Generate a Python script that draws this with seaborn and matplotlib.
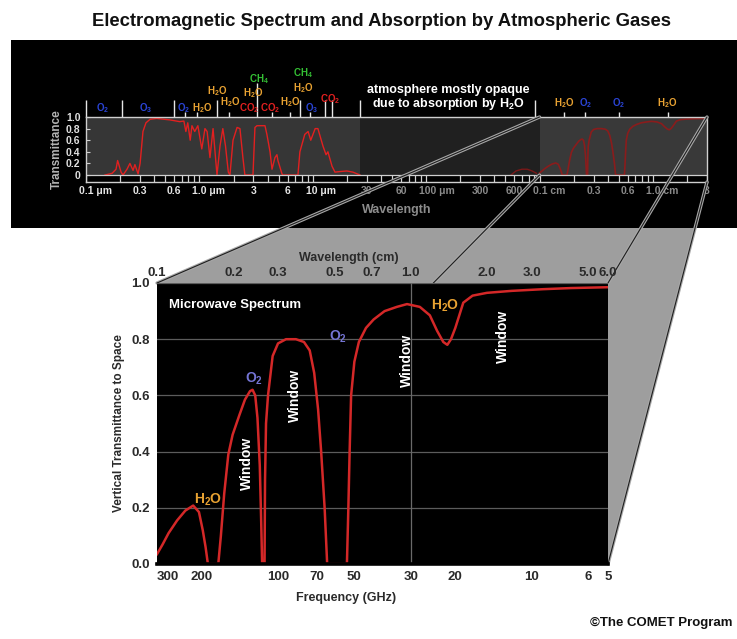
import matplotlib
matplotlib.use("Agg")
import matplotlib.pyplot as plt
from matplotlib.patches import Rectangle, Polygon, ConnectionPatch
from matplotlib.ticker import NullLocator
import seaborn as sns

# microwave window: frequency (GHz) vs vertical transmittance to space
mw_freq = [300, 285, 270, 250, 232, 216, 205, 198, 193, 189,
           180, 172, 168, 163, 157, 151, 142, 135, 129, 126,
           123, 120.5, 118, 116.5, 115.5, 113, 112.5, 111.5, 109.5, 105,
           100, 93, 85, 79, 75, 72, 69.5, 67.6, 65.5, 64,
           58, 53.5, 52.8, 52.2, 51.5, 50, 48, 45, 42, 38,
           34, 31, 27.6, 25.2, 23.6, 22.3, 21.5, 20.8, 20.0, 18.6,
           17.1, 15, 12, 9, 7, 5]
mw_trans = [0.035, 0.07, 0.11, 0.155, 0.19, 0.208, 0.185, 0.12, 0.06, 0.0,
            0.0, 0.0, 0.10, 0.25, 0.39, 0.46, 0.53, 0.585, 0.615, 0.62,
            0.60, 0.52, 0.35, 0.15, 0.0, 0.0, 0.3, 0.5, 0.6, 0.74,
            0.785, 0.80, 0.80, 0.79, 0.76, 0.68, 0.55, 0.4, 0.2, 0.0,
            0.0, 0.0, 0.2, 0.4, 0.6, 0.72, 0.79, 0.84, 0.87, 0.90,
            0.915, 0.925, 0.915, 0.885, 0.83, 0.79, 0.78, 0.80, 0.84, 0.93,
            0.955, 0.965, 0.972, 0.978, 0.982, 0.985]

# ultraviolet / visible / infrared transmittance, wavelength in micrometres
ir_wl = [0.147, 0.17, 0.184, 0.19, 0.204, 0.212, 0.23, 0.244, 0.26, 0.27,
         0.288, 0.30, 0.318, 0.338, 0.367, 0.42, 0.55, 0.67, 0.73, 0.76,
         0.79, 0.83, 0.86, 0.91, 0.97, 1.05, 1.12, 1.17, 1.24, 1.32,
         1.43, 1.52, 1.61, 1.7, 1.8, 1.86, 1.98, 2.15, 2.28, 2.42,
         2.52, 2.97, 3.09, 3.22, 3.79, 3.94, 4.2, 4.37, 4.64, 4.83,
         4.93, 5.35, 5.46, 7.4, 7.7, 8.5, 9.1, 9.6, 10.5, 11.1,
         12.3, 13.1, 13.6, 14.8, 15.7, 17.4, 20, 22.6, 26.1]
ir_trans = [0.0, 0.03, 0.1, 0.25, 0.05, 0.0, 0.1, 0.2, 0.08, 0.18,
            0.02, 0.2, 0.75, 0.9, 0.96, 0.975, 0.95, 0.92, 0.93, 0.75,
            0.9, 0.6, 0.85, 0.75, 0.85, 0.45, 0.8, 0.75, 0.3, 0.8,
            0.0, 0.5, 0.8, 0.5, 0.05, 0.0, 0.6, 0.82, 0.8, 0.3,
            0.0, 0.0, 0.82, 0.85, 0.85, 0.7, 0.4, 0.1, 0.3, 0.35,
            0.25, 0.02, 0.0, 0.0, 0.4, 0.7, 0.75, 0.6, 0.8, 0.8,
            0.5, 0.35, 0.4, 0.15, 0.05, 0.06, 0.07, 0.05, 0.0]

# weak far-infrared window
fir_wl = [560, 620, 700, 780, 860, 940]
fir_trans = [0.0, 0.07, 0.1, 0.1, 0.07, 0.03]

top_ticks = [0.1, 0.3, 0.6, 1, 3, 6, 10, 30, 60, 100, 300, 600,
             1000, 3000, 6000, 10000, 30000]
top_labels = ["0.1 μm", "0.3", "0.6", "1.0 μm", "3", "6", "10 μm", "30", "60",
              "100 μm", "300", "600", "0.1 cm", "0.3", "0.6", "1.0 cm", "3"]

freq_ticks = [300, 200, 100, 70, 50, 30, 20, 10, 6, 5]
wl_cm_ticks = [0.1, 0.2, 0.3, 0.5, 0.7, 1.0, 2.0, 3.0, 5.0, 6.0]
trans_ticks = [0.0, 0.2, 0.4, 0.6, 0.8, 1.0]

# band separators above the top panel (micrometres)
sep_tall = [0.1, 0.208, 0.597, 1.43, 7.7, 12.8, 14.7, 26.1, 920]
sep_ch4 = [3.22]
sep_short = [0.75, 0.95, 1.83, 4.36, 6.3, 9.4]
mw_lines_ghz = [183, 118.75, 60, 22.235]
mw_line_gas = ["H$_2$O", "O$_2$", "O$_2$", "H$_2$O"]

ir_gas = ["O$_2$", "O$_3$", "O$_2$", "H$_2$O", "H$_2$O", "H$_2$O", "H$_2$O",
          "CH$_4$", "CO$_2$", "CO$_2$", "H$_2$O", "H$_2$O", "CH$_4$", "O$_3$", "CO$_2$"]

BLUE, ORANGE, GREEN, RED = "#2a44d6", "#e8a232", "#34c034", "#e22020"
LAV = "#7474d4"

plt.rcParams["font.family"] = ["Liberation Sans", "DejaVu Sans"]
plt.rcParams["font.weight"] = "bold"
plt.rcParams["mathtext.fontset"] = "custom"
plt.rcParams["mathtext.rm"] = "Liberation Sans:bold"
plt.rcParams["mathtext.bf"] = "Liberation Sans:bold"
plt.rcParams["mathtext.default"] = "bf"

W, H = 737, 639
fig = plt.figure(figsize=(W / 100, H / 100), dpi=100)
fig.patch.set_facecolor("white")


def frac(x0, y0, x1, y1):
    return [x0 / W, 1 - y1 / H, (x1 - x0) / W, (y1 - y0) / H]


# ---------------- top panel: whole spectrum ----------------
ax_top = fig.add_axes(frac(86, 117, 707, 182))
ax_top.set_zorder(-1)
ax_top.set_xscale("log")
ax_top.set_xlim(0.1, 30000)
ax_top.set_ylim(-0.12, 1.0)
ax_top.patch.set_alpha(0)
ax_top.xaxis.set_minor_locator(NullLocator())

ax_top.fill_between([0.1, 26.1], 0, 1, color="#363636", lw=0)
ax_top.fill_between([26.1, 1000], 0, 1, color="#202020", lw=0)
ax_top.fill_between([1000, 30000], 0, 1, color="#393939", lw=0)

sns.lineplot(x=ir_wl, y=ir_trans, ax=ax_top, color=RED, lw=1.0, estimator=None)
sns.lineplot(x=fir_wl, y=fir_trans, ax=ax_top, color="#7a1818", lw=1.0, estimator=None)
sns.lineplot(x=[3e5 / f for f in mw_freq], y=mw_trans, ax=ax_top,
             color="#8a1c1c", lw=1.2, estimator=None)

# ruler strip below the panel
ruler = [m * 10.0 ** e for e in range(-1, 5) for m in range(1, 10) if m * 10.0 ** e <= 30000]
ax_top.vlines(ruler, -0.12, 0, color="#cfcfcf", lw=0.9)
ax_top.axhline(0, color="#cfcfcf", lw=0.9)
for s in ax_top.spines.values():
    s.set_color("#cfcfcf")
    s.set_linewidth(1.0)

ax_top.set_xticks([])
ax_top.set_yticks(trans_ticks)
ax_top.set_yticklabels(["0", "0.2", "0.4", "0.6", "0.8", "1.0"], fontsize=7.5,
                       color="#e0e0e0", fontweight="bold")
ax_top.tick_params(axis="y", direction="in", length=3, color="#cfcfcf", pad=4)
ax_top.set_ylabel("Transmittance", color="#b4b4b4", fontsize=8.5, fontweight="bold", labelpad=2)
ax_top.set_xlabel("Wavelength", color="#8c8c8c", fontsize=9, fontweight="bold", labelpad=16)

for i, (t, lab) in enumerate(zip(top_ticks, top_labels)):
    unit = " " in lab
    ax_top.annotate(lab, xy=(t, -0.12), xycoords="data", xytext=(-5 if unit else 0, -3),
                    textcoords="offset points", ha="left" if unit else "center", va="top",
                    fontsize=7.5, fontweight="bold", color="#e6e6e6" if i < 7 else "#8a8a8a",
                    annotation_clip=False)

ax_top.vlines(sep_tall, 1.0, 1.30, color="#e6e6e6", lw=1.0, clip_on=False)
ax_top.vlines(sep_ch4, 1.0, 1.59, color="#e6e6e6", lw=1.0, clip_on=False)
ax_top.vlines(sep_short, 1.0, 1.08, color="#e6e6e6", lw=1.0, clip_on=False)
mw_lines_um = [3e5 / f for f in mw_lines_ghz]
ax_top.vlines(mw_lines_um, 1.0, 1.08, color="#e6e6e6", lw=1.0, clip_on=False)

ir_pos = [(0.141, 1.16), (0.338, 1.16), (0.72, 1.16), (1.05, 1.16), (1.43, 1.45),
          (1.86, 1.26), (2.96, 1.42), (3.35, 1.66), (2.75, 1.16), (4.25, 1.16),
          (6.3, 1.26), (8.2, 1.49), (8.2, 1.76), (9.8, 1.16), (14.1, 1.31)]
for gas, (xw, yt) in zip(ir_gas, ir_pos):
    col = {"O": BLUE, "H": ORANGE, "C": GREEN if "CH" in gas else RED}[gas[0]]
    ax_top.text(xw, yt, gas, color=col, fontsize=7, ha="center", va="center", clip_on=False)
for gas, xw in zip(mw_line_gas, mw_lines_um):
    ax_top.text(xw, 1.24, gas, color=ORANGE if gas.startswith("H") else BLUE,
                fontsize=7, ha="center", va="center", clip_on=False)
ax_top.text(156, 1.33, "atmosphere mostly opaque\ndue to absorption by H$_2$O",
            color="white", fontsize=9, ha="center", va="center", linespacing=1.0,
            clip_on=False)

# ---------------- main panel: microwave spectrum ----------------
ax = fig.add_axes(frac(157, 283, 608, 564))
ax.set_zorder(1)
ax.set_facecolor("black")
ax.set_xscale("log")
ax.set_xlim(300, 5)
ax.set_ylim(0, 1.0)
for s in ax.spines.values():
    s.set_visible(False)
# black bottom edge hides the curve where it lies along zero
ax.spines["bottom"].set_visible(True)
ax.spines["bottom"].set_color("black")
ax.spines["bottom"].set_linewidth(2.6)

ax.set_yticks(trans_ticks)
ax.set_yticklabels([f"{v:.1f}" for v in trans_ticks], fontsize=9.5, fontweight="bold", color="#2a2a2a")
ax.yaxis.grid(True, color="#5c5c5c", lw=0.9)
ax.axvline(30, color="#6a6a6a", lw=0.9)
ax.set_axisbelow(True)
ax.set_xticks(freq_ticks)
ax.set_xticklabels([str(v) for v in freq_ticks], fontsize=9.5, fontweight="bold", color="#2a2a2a")
ax.get_xticklabels()[0].set_ha("left")
ax.xaxis.set_minor_locator(NullLocator())
ax.tick_params(length=0, pad=5)

sns.lineplot(x=mw_freq, y=mw_trans, ax=ax, color="#d42828", lw=1.8, estimator=None)

ax.set_xlabel("Frequency (GHz)", fontsize=9, fontweight="bold", color="#2a2a2a")
ax.xaxis.set_label_coords(0.42, -0.1)
ax.set_ylabel("Vertical Transmittance to Space", fontsize=8.5, fontweight="bold", color="#2a2a2a")
ax.yaxis.set_label_coords(-0.07, 0.5)

ax.text(0.027, 0.92, "Microwave Spectrum", transform=ax.transAxes, color="white",
        fontsize=9.5, ha="left", va="center")
for gas, f, t in [("H$_2$O", 189, 0.23), ("O$_2$", 124, 0.66), ("O$_2$", 58, 0.81), ("H$_2$O", 21.9, 0.92)]:
    ax.text(f, t, gas, color=ORANGE if gas.startswith("H") else LAV, fontsize=10,
            ha="center", va="center")
for f, t in [(132.5, 0.357), (85.5, 0.60), (30.9, 0.725), (13.0, 0.81)]:
    ax.text(f, t, "Window", color="white", fontsize=10, rotation=90, ha="center", va="center")

axw = ax.twiny()
axw.set_zorder(1.1)
axw.set_xscale("log")
axw.set_xlim(300, 5)
axw.set_xticks([30 / w for w in wl_cm_ticks])
axw.set_xticklabels([f"{w:.1f}" for w in wl_cm_ticks], fontsize=9.5, fontweight="bold", color="#2a2a2a")
axw.xaxis.set_minor_locator(NullLocator())
axw.tick_params(length=0, pad=3)
for s in axw.spines.values():
    s.set_visible(False)
axw.set_xlabel("Wavelength (cm)", fontsize=9, fontweight="bold", color="#2a2a2a")
axw.xaxis.set_label_coords(0.426, 1.08)


# ---------------- perspective box linking the two panels ----------------
def to_fig(trans, xy):
    return fig.transFigure.inverted().transform(trans.transform(xy))


face = [to_fig(ax_top.transData, (1000, 1.0)), to_fig(ax_top.transData, (30000, 1.0)),
        to_fig(ax_top.transData, (30000, -0.12)), to_fig(ax.transAxes, (1, 0)),
        to_fig(ax.transAxes, (1, 1)), to_fig(ax.transAxes, (0, 1))]
fig.add_artist(Polygon(face, closed=True, transform=fig.transFigure, facecolor="#9e9e9e",
                       edgecolor="none", zorder=-3))
fig.add_artist(Rectangle((11 / W, 1 - 228 / H), (W - 11) / W, (228 - 40) / H,
                         transform=fig.transFigure, facecolor="black", edgecolor="none", zorder=-2))

links = [((1000, 1.0), (0, 1)), ((30000, 1.0), (1, 1)), ((30000, -0.12), (1, 0)), ((1000, 0.0), (0, 0))]
for a, b in links:
    for col, lw in [("#a8a8a8", 2.4), ("#1e1e1e", 0.8)]:
        cp = ConnectionPatch(xyA=a, coordsA=ax_top.transData, xyB=b, coordsB=ax.transAxes,
                             color=col, lw=lw)
        cp.set_zorder(0.5)
        fig.add_artist(cp)

fig.text(382 / W, 1 - 22 / H, "Electromagnetic Spectrum and Absorption by Atmospheric Gases",
         ha="center", va="center", fontsize=13.3, fontweight="bold", color="#111111")
fig.text(733 / W, 1 - 623 / H, "©The COMET Program", ha="right", va="center",
         fontsize=9.5, fontweight="bold", color="#111111")

fig.savefig("out.png", dpi=100, facecolor="white")
